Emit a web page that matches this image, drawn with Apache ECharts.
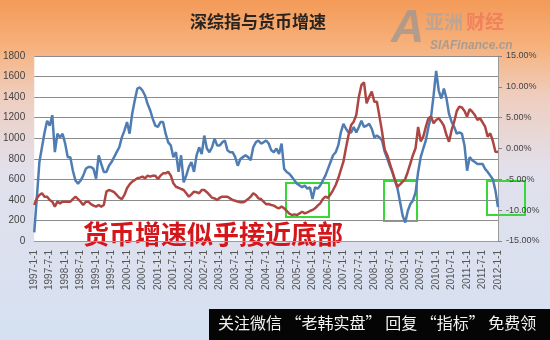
<!DOCTYPE html>
<html><head><meta charset="utf-8">
<script src="https://cdn.jsdelivr.net/npm/echarts@6/dist/echarts.min.js"></script>
<style>html,body{margin:0;padding:0;}#c{width:550px;height:340px;}</style>
</head><body><div id="c"></div>
<script>
// Monthly categories 1997-1-1 .. 2012-1-1
const months = [];
for (let y = 1997; y <= 2012; y++) {
  for (let m = 1; m <= 12; m++) {
    if (y === 2012 && m > 1) break;
    months.push(y + '-' + m + '-1');
  }
}
// 深综指 (left axis)
const szIndex = [
350,415,448,464,431,431,399,383,334,383,366,383,
383,383,383,408,431,408,383,350,383,383,358,344,
334,350,334,350,480,496,488,475,448,421,408,448,
513,551,577,594,610,617,626,610,636,626,636,636,
603,636,658,658,674,636,561,528,518,506,496,464,
431,454,480,475,464,496,496,475,448,421,415,399,
421,431,431,431,415,399,392,383,377,377,389,408,
431,464,448,415,408,383,358,361,350,344,328,318,
334,318,292,266,253,259,253,269,285,269,279,292,
302,318,344,366,408,431,421,454,496,545,610,691,
772,908,1031,1129,1161,1226,1404,1518,1544,1340,1404,1453,
1355,1355,1210,1064,890,837,756,674,594,528,551,577,
603,674,756,837,902,1110,970,1015,1112,1194,1210,1145,
1177,1194,1161,1120,1031,966,1080,1161,1265,1307,1299,1265,
1210,1284,1258,1226,1177,1194,1155,1112,1015,1048,973,869,
866
];
// 货币增速 (right axis, %)
const moneyGrowth = [
-13.6,-8.0,-2.2,0.2,2.6,4.5,3.7,5.4,-0.6,2.4,1.8,2.4,
0.8,-1.4,-1.4,-3.6,-5.2,-5.7,-5.2,-4.4,-3.3,-3.0,-3.0,-3.3,
-4.9,-1.1,-2.5,-3.8,-3.8,-2.8,-2.2,-1.4,-0.6,0.2,1.8,2.9,
4.3,2.4,5.6,7.8,9.7,9.9,9.4,8.6,7.2,6.2,4.8,3.7,
3.5,4.3,4.3,2.4,1.0,0.5,-1.4,-0.6,-3.8,-1.1,-5.5,-4.4,
-3.0,-2.2,-3.8,-1.1,0.2,-0.9,2.1,0.0,-0.6,0.2,1.6,0.5,
0.5,1.0,1.3,-0.3,-0.6,-0.6,-1.4,-2.8,-1.7,-1.4,-1.1,-1.4,
-1.9,0.2,1.0,1.3,0.8,1.0,1.3,0.8,-0.3,-0.6,0.0,-0.9,
0.8,-3.3,-3.8,-4.1,-4.6,-5.2,-5.7,-6.0,-6.3,-6.0,-6.5,-6.3,
-8.2,-6.3,-6.5,-6.0,-5.2,-4.4,-3.3,-2.2,-1.1,-0.6,0.5,2.6,
4.0,3.2,2.6,2.6,3.5,2.6,3.5,4.5,3.5,3.7,4.0,3.2,
1.8,2.1,1.8,1.3,-0.5,-1.6,-2.8,-3.8,-5.2,-6.5,-8.7,-10.9,
-12.0,-10.1,-9.0,-8.4,-7.1,-3.8,-1.4,0.0,1.3,3.5,5.1,8.6,
12.6,9.4,8.1,9.7,8.1,5.6,4.3,3.5,2.4,2.6,2.4,0.5,
-3.6,-1.4,-1.9,-2.2,-2.5,-2.5,-2.5,-3.3,-3.8,-4.4,-5.0,-6.8,
-9.5
];
const leftTicks = [0, 1800, 200];
const rightTicks = [-15, 15, 5];

const chart = echarts.init(document.getElementById('c'), null, {renderer: 'canvas'});
const font = 'Liberation Sans, Arial, sans-serif';
const cjk = '"Noto Sans CJK SC", sans-serif';
chart.setOption({
  animation: false,
  backgroundColor: {
    type: 'linear', x: 0, y: 0, x2: 0, y2: 1,
    colorStops: [
      {offset: 0, color: '#f39a58'},
      {offset: 0.13, color: '#f7b07a'},
      {offset: 0.28, color: '#efcdbe'},
      {offset: 0.5, color: '#e2e0ec'},
      {offset: 1, color: '#d5e1f1'}
    ]
  },
  grid: {left: 32, right: 52, top: 56, bottom: 99, show: true, backgroundColor: '#ffffff', borderWidth: 0},
  xAxis: {
    type: 'category', data: months, boundaryGap: false,
    axisLine: {show: true, lineStyle: {color: '#9a9a9a', width: 1}},
    axisTick: {show: false},
    axisLabel: {interval: 5, rotate: 90, fontSize: 10, color: '#555', fontFamily: font, margin: 9}
  },
  yAxis: [
    {type: 'value', min: leftTicks[0], max: leftTicks[1], interval: leftTicks[2],
     axisLine: {show: false}, axisTick: {show: false},
     splitLine: {lineStyle: {color: '#8c8c8c', width: 1}},
     axisLabel: {fontSize: 10, color: '#444', fontFamily: font, margin: 9, formatter: v => String(v)}},
    {type: 'value', min: rightTicks[0], max: rightTicks[1], interval: rightTicks[2],
     axisLine: {show: true, lineStyle: {color: '#9a9a9a'}},
     axisTick: {show: true, length: 4, lineStyle: {color: '#888'}},
     splitLine: {show: false},
     axisLabel: {fontSize: 9, color: '#444', fontFamily: font, margin: 8,
       formatter: v => v.toFixed(2) + '%'}}
  ],
  series: [
    {name: '货币增速', type: 'line', yAxisIndex: 1, data: moneyGrowth, showSymbol: false,
     lineStyle: {color: '#4f7db3', width: 2.5}, itemStyle: {color: '#4f7db3'}},
    {name: '深综指', type: 'line', yAxisIndex: 0, data: szIndex, showSymbol: false,
     lineStyle: {color: '#ad4642', width: 2.5}, itemStyle: {color: '#ad4642'}}
  ],
  graphic: [
    {type: 'text', left: 190, top: 13, style: {text: '深综指与货币增速', font: 'bold 17px ' + cjk, fill: '#2a2420'}},
    {type: 'text', left: 391, top: 6, style: {text: 'A', font: 'italic bold 46px ' + font, fill: 'rgba(150,150,150,0.7)'}},
    {type: 'text', left: 425, top: 12, style: {text: '亚洲', font: 'bold 19px ' + cjk, fill: 'rgba(175,165,160,0.8)'}},
    {type: 'text', left: 466, top: 12, style: {text: '财经', font: 'bold 19px ' + cjk, fill: 'rgba(240,120,90,0.8)'}},
    {type: 'text', left: 430, top: 40, style: {text: 'SIAFinance.cn', font: 'italic bold 12px ' + font, fill: 'rgba(150,150,150,0.8)'}},
    {type: 'text', left: 83, top: 221, style: {text: '货币增速似乎接近底部', font: 'bold 26px ' + cjk, fill: '#d4161a'}},
    {type: 'rect', shape: {x: 286, y: 183, width: 43, height: 34}, style: {fill: 'none', stroke: '#39d839', lineWidth: 2}},
    {type: 'rect', shape: {x: 384, y: 181, width: 33, height: 40}, style: {fill: 'none', stroke: '#39d839', lineWidth: 2}},
    {type: 'rect', shape: {x: 487, y: 181, width: 38, height: 34}, style: {fill: 'none', stroke: '#39d839', lineWidth: 2}},
    {type: 'rect', shape: {x: 209, y: 309, width: 341, height: 31}, style: {fill: '#050505'}},
    {type: 'text', left: 218, top: 315, style: {text: '关注微信 “老韩实盘” 回复 “指标” 免费领', font: '16px ' + cjk, fill: '#f2f2f2'}}
  ]
});
</script></body></html>
